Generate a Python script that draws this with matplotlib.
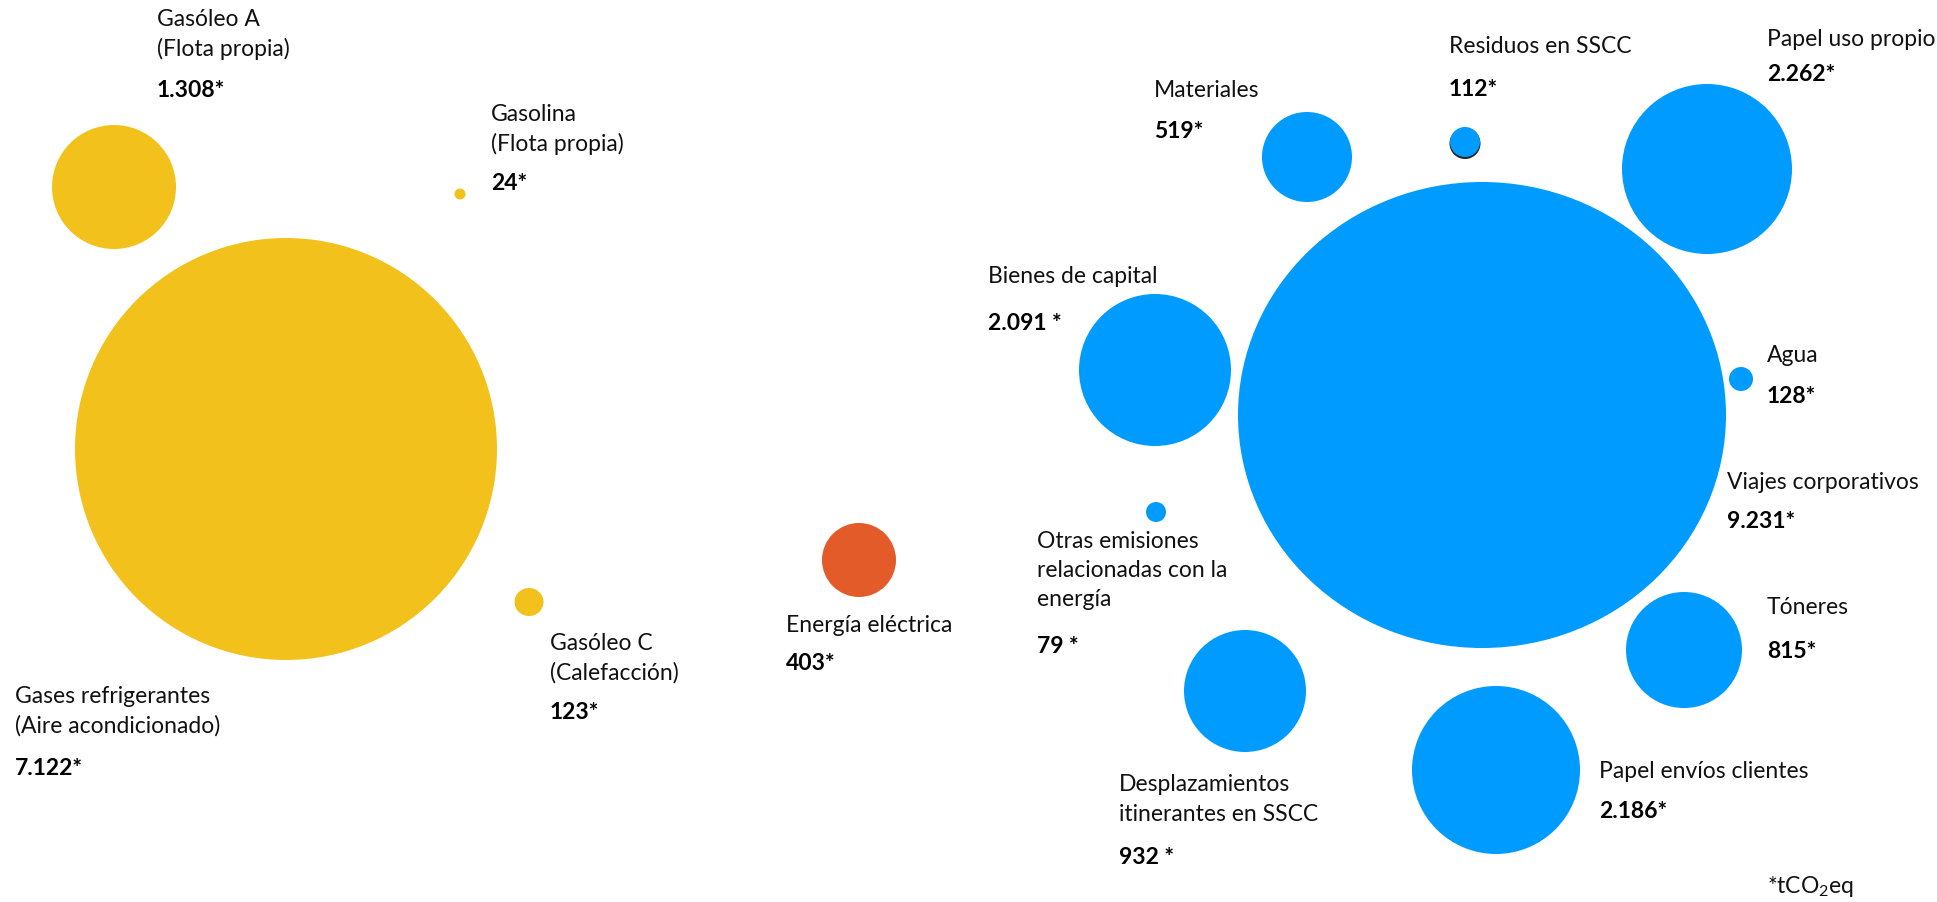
import matplotlib.pyplot as plt
from matplotlib.patches import Ellipse

plt.rcParams['font.family'] = ['Lato', 'DejaVu Sans']
plt.rcParams['mathtext.fontset'] = 'custom'
plt.rcParams['mathtext.rm'] = 'Lato'

# Emission sources and their footprint (tCO2eq)
names = [
    ['Gasóleo A', '(Flota propia)'],
    ['Gasolina', '(Flota propia)'],
    ['Gases refrigerantes', '(Aire acondicionado)'],
    ['Gasóleo C', '(Calefacción)'],
    ['Energía eléctrica'],
    ['Materiales'],
    ['Residuos en SSCC'],
    ['Papel uso propio'],
    ['Bienes de capital'],
    ['Viajes corporativos'],
    ['Agua'],
    ['Otras emisiones', 'relacionadas con la', 'energía'],
    ['Tóneres'],
    ['Papel envíos clientes'],
    ['Desplazamientos', 'itinerantes en SSCC'],
]
values = [1308, 24, 7122, 123, 403, 519, 112, 2262, 2091, 9231, 128, 79, 815, 2186, 932]
stars = ['*', '*', '*', '*', '*', '*', '*', '*', ' *', '*', '*', ' *', '*', '*', ' *']
group = ['fuel', 'fuel', 'fuel', 'fuel', 'power',
         'other', 'other', 'other', 'other', 'other', 'other', 'other', 'other', 'other', 'other']
footnote = r'*tCO$_\mathregular{2}$eq'

colors = {'fuel': '#F3C11B', 'power': '#E35B29', 'other': '#009BFF'}

# layout in pixels of the 1937x902 canvas (bubbles were placed by hand)
cx = [114, 460, 286, 529, 859, 1307, 1465, 1707, 1155, 1482, 1741, 1156, 1684, 1496, 1245]
cy = [187, 194, 449, 602, 560, 157, 142, 169, 370, 415, 379, 512, 650, 770, 691]
rx = [62, 5.5, 211, 14.5, 37, 45, 15, 85, 76, 244, 12, 10, 58, 84, 61]
ry = [62, 5.5, 211, 14, 37, 45, 15, 85, 76, 233, 12, 10, 58, 84, 61]
lx = [157, 491, 15, 550, 786, 1154, 1449, 1767, 988, 1727, 1767, 1037, 1767, 1599, 1119]
ly = [26, 121, 703, 650, 632, 97, 53, 46, 283, 489, 362, 548, 614, 778, 791]
vy = [97, 190, 775, 719, 670, 138, 96, 81, 330, 528, 403, 653, 658, 818, 864]
line_gap = [30, 30, 30, 30, 30, 30, 30, 30, 30, 30, 30, 29, 30, 30, 30]

W, H = 1937, 902
fig = plt.figure(figsize=(W / 100, H / 100), dpi=100)
ax = fig.add_axes([0, 0, 1, 1])
ax.set_xlim(0, W)
ax.set_ylim(H, 0)
ax.axis('off')

for i in range(len(values)):
    col = colors[group[i]]
    if names[i][0] == 'Residuos en SSCC':
        # dark rim at the bottom of the small bubble
        ax.add_patch(Ellipse((cx[i], cy[i] + 1.5), 2 * rx[i] + 1, 2 * ry[i] + 1,
                             facecolor='#222222', edgecolor='none'))
    ax.add_patch(Ellipse((cx[i], cy[i]), 2 * rx[i], 2 * ry[i],
                         facecolor=col, edgecolor='none'))

    for k, line in enumerate(names[i]):
        ax.text(lx[i], ly[i] + k * line_gap[i], line, fontsize=16.5,
                color='#111111', ha='left', va='baseline')
    label = f'{values[i]:,}'.replace(',', '.') + stars[i]
    ax.text(lx[i], vy[i], label, fontsize=16.5, fontweight='bold',
            color='#000000', ha='left', va='baseline')

ax.text(1767, 893, footnote, fontsize=16.5, color='#111111', ha='left', va='baseline')

fig.savefig('out.png', dpi=100)
